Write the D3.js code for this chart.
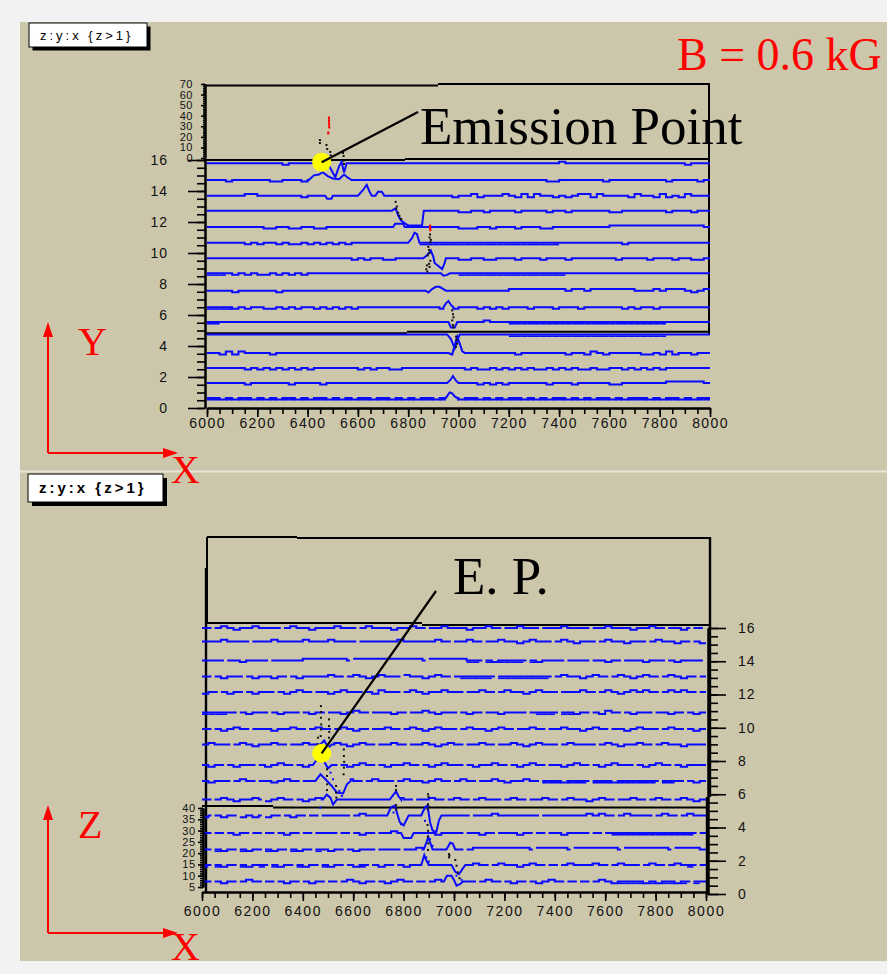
<!DOCTYPE html>
<html>
<head>
<meta charset="utf-8">
<script src="https://cdn.jsdelivr.net/npm/d3@7"></script>
<style>
  html, body { margin: 0; padding: 0; background: #f2f2f2; }
  svg { display: block; }
</style>
</head>
<body>
<svg id="fig" width="887" height="974"></svg>
<script>
// ---------------- data ----------------
const xTickValues = [6000, 6200, 6400, 6600, 6800, 7000, 7200, 7400, 7600, 7800, 8000];
const rowTickValues = [0, 2, 4, 6, 8, 10, 12, 14, 16];
const zTopTickValues = [0, 10, 20, 30, 40, 50, 60, 70];
const zBotTickValues = [5, 10, 15, 20, 25, 30, 35, 40];

// baseline level of each trace (row 0 = lowest)
const topRowY = [0.65, 1.61, 2.58, 3.55, 4.75, 5.55, 6.5, 7.57, 8.69, 9.66, 10.66, 11.68, 12.73, 13.70, 14.71, 15.79];
const botRowY = [0.75, 1.74, 2.68, 3.67, 4.72, 5.68, 6.80, 7.76, 8.99, 9.92, 10.92, 12.15, 13.08, 14.05, 15.19, 16.0];

// per-bin baseline texture, 25 ns bins from 6000 to 8000
// '-' level, '_' low, '^' high, '=' doubled line, '.' short dropout
const topTexture = [
  "==_=_==_=_ =_==_=_==_ =_=_==_==_ =_=_==_=== _==_=_=_== _=_=_==_=_ =_==_=_=== _=_==_=_==",
  "------_--- ---_----_- ---------- ---------- ---_-_-_-- ----_---_- ----__---- ---^^^^^^-",
  "------_-_- _-_-_-_--- ----_-_--_ _--------- -_-__-_-_- _-__-_-_-_ _-__--_-_- _-_-------",
  "--_^_^---- _--------- ---------- ---------- ---------_ -------_-- _^-_-----_ _-_^_--_--",
  "---------- ---------- ---------- ---------- --------== ========== ========== ===-------",
  "==-------- ---------- ---------- ---------- ----^---== ========== ========== ===-------",
  "====_-_--_ _-_-_--_-_ -_-_------ -------_-_ ---_-_-_-- -_---_---_ ------_-_- -_--------",
  "----_----- -_-------- ---------- ---------- --------^^ ^^^^^^^-^^ -^^^^^^^-- -^-^^^-_-^",
  "===-_-_-__ -_-_-_---- ---------- ---------- ========== =======--- ---------- ----------",
  "---------- ---------- ---_-_--__ ---------- __--__---_ ---_---_-- -----_---- _---_--__-",
  "------_-_- -_-__-_-_- _-_------- ---======= ========== ======---- ------_--- ----------",
  "---------_ _--__--__- ---------- ---------- ___--_---_ ---__----- ----^^^^^^ ^^^^^^^^^-",
  "---------- ---------- ---------- ---------- __--_----_ ----_--_-- ----__---- ---_---_--",
  "------^^-- -----_---- ---------- ---------_ --^_---^-_ ^_^--_-_-^ ^_^----_^- -_^_-_^---",
  "---_------ __---_---- ---------- ---------- ---------- ----__---- ---_------ ---_----_-",
  "---------- --_------- ---------- ---------- ---------- ------^--- ---------- ------_---"
];
const botTexture = [
  "-.-_-.-^-. -.-_-.-_-. -.-^-_-.-_ -^-.-.-^-_ -.-.-^-.-_ -.-_-^-.-. -.-^-_==== _=_==_=.=-",
  "=.=_-.=_-= .=_-.=_-.= _-.-_=.-_- .-_-.--_-. -.-^-.-^-- _-^-.-.-^- --^-.-^--. -^-.-^-=.-",
  "-.=_-.=_-. =_-.=_-.=- _-.-_--.-- -.--^-.--- -.-^^^^^^^ ^^.^^^^^.^ ^^^^^^.^^^ ^^^^.^^^^-",
  "-.-.-_-.-. -.-_-.-.-- -.-.-_-.-- ^--.---_-- -.--_-.--- _-.-.--_-- -.-.-===== ========.-",
  "_.-_-._-_. _-.-_-.-.- ---.-^---. ---------- --.---^--- ---.------ -^-^-.-^-- -.-^-.-^--",
  "-.-^-_--^. _-^-.-_-^- --^-.-^--_ -^-.--^-.- ^-.-^--.-^ -.--^-.-^- -_-^-.--^- .-^-.-^-_-",
  "-_--.-^-.- -_-^-.--^- _--^-.-^-- .-^--_-^-. -^-.--^-_- -^-.===_== =.===_==== ==.==-.-_-",
  "-_-.-_--.- _-^-.-_--^ -.-_-^-.-_ --^-.-_-^- -.-_--^-.- _-^-.--_-^ -.-_-^--.- _-^-.-_---",
  "-^--.-^-_- -^-.--^--. -^-_-^-.-- ^-.--^-_-^ -.--^-.--^ -_-^--.-^- --.-^-_--^ -.-^--_---",
  "-.-_-^-.-- -_--^-.-^- .-^-_-.--^ -.-^-_-^-- .-^--_-^-. --^-.--^-- _-^-.--_-^ --.-^-.-_-",
  "====-.-_-- .-_--.-_-. --_-^-.--- _-.--^-_-- .-_-.--_-- -.-===.==_ -.-_^-.-_- -.--_-.-_-",
  "_-.-_-.-_- -.-_-^-.-- _-^--.-_^- -.-^-_--^- -.--^-.-^- -_-^--.--- ^-.-^-_-^- ^-.-^-^-.-",
  "-.-_--.-_- -_-.-_---- ^-.-^-_-^- -.^--_-^-. -=====.=== =====.-^-- _-^-.-^-_- ^-.-^-_-.-",
  "---.--_--- .-----^^^^ ^^^.^^^^^^ ^^^^^.^^^^ ^^==.=_=== =.=_---.-- -.--_-.--- _--.-_---.",
  "---^---.-- -^----^--- ^---.----- -^-----^-. --^-.--^-- _-^--.-^-_ --.-^--_-- .-^--_-.-_",
  "-.-^-_--^- --.-^--_-- -^--.-^--- _--^-.--^- --_--^-.-- ^--.---^-- -.--^---_- -^-.--_.-."
];

// pulse shapes: [row, [[time, offset from baseline], ...]]
const topPulses = [
  [15, [[6430, 0], [6445, 0.15], [6460, 0.5], [6475, 0.2], [6490, -0.3], [6510, -0.9], [6525, -0.2], [6535, 0.1], [6545, -0.6], [6555, 0]]],
  [14, [[6405, 0], [6425, 0.3], [6445, 0.35], [6460, 0.5], [6480, 0.25], [6500, 0.1], [6525, 0.05], [6545, 0.35], [6560, 0.15], [6575, 0]]],
  [13, [[6470, 0], [6478, -0.2], [6495, -0.2], [6500, 0], [6600, 0], [6620, 0.35], [6635, 0.7], [6645, 0.3], [6655, 0], [6670, 0], [6680, 0.25], [6695, 0.25], [6705, 0]]],
  [12, [[6735, 0], [6750, 0.15], [6760, -0.3], [6770, -0.6], [6785, -0.8], [6800, -0.95], [6855, -0.95], [6862, 0]]],
  [11, [[6740, 0], [6748, 0.2], [6780, 0.2], [6786, 0]]],
  [10, [[6800, 0], [6815, 0.3], [6825, 0.65], [6835, 0.55], [6845, 0]]],
  [9, [[6860, 0], [6875, 0.2], [6890, 0.5], [6900, 0.1], [6905, -0.3], [6920, -0.5], [6935, -0.7], [6945, -0.3], [6950, 0]]],
  [8, [[6930, 0], [6940, -0.15], [6955, -0.1], [6965, 0]]],
  [7, [[6870, 0], [6880, -0.12], [6895, 0.1], [6910, 0.25], [6925, 0.25], [6940, 0.1], [6950, 0]]],
  [6, [[6940, 0], [6950, 0.25], [6960, 0.4], [6970, 0.15], [6980, 0]]],
  [5, [[6960, 0], [6970, -0.35], [6985, -0.35], [6995, 0]]],
  [4, [[6955, 0], [6970, -0.3], [6985, -0.9], [6995, -0.4], [7005, 0]]],
  [3, [[6960, 0], [6975, -0.1], [6985, 0.5], [6995, 1.05], [7005, 0.6], [7015, 0.1], [7025, 0]]],
  [1, [[6955, 0], [6968, 0.2], [6978, 0.45], [6990, 0.15], [7000, 0]]],
  [0, [[6950, 0], [6965, 0.35], [6975, 0.3], [6985, 0.1], [6995, 0]]]
];
const botPulses = [
  [8, [[6470, 0], [6485, 0.25], [6500, -0.2], [6515, 0]]],
  [7, [[6440, 0], [6455, 0.3], [6470, 0.5], [6485, 0.2], [6500, -0.2], [6515, 0]]],
  [6, [[6450, 0], [6470, 0.4], [6490, 0.1], [6515, -0.3], [6535, -0.7], [6560, -0.75], [6575, -0.2], [6590, 0]]],
  [5, [[6480, 0], [6495, 0.3], [6510, 0.1], [6520, -0.3], [6535, 0], [6745, 0], [6760, 0.3], [6770, 0.5], [6780, 0.2], [6790, 0]]],
  [4, [[6735, 0], [6750, 0.5], [6765, 0.6], [6775, 0.1], [6785, -0.4], [6800, -0.6], [6810, -0.3], [6820, 0], [6870, 0], [6885, 0.5], [6895, 0.6], [6905, -0.4], [6915, -0.9], [6930, -1.0], [6940, -0.3], [6950, 0]]],
  [3, [[6790, 0], [6800, -0.3], [6830, -0.3], [6840, 0]]],
  [2, [[6880, 0], [6890, 0.4], [6898, 0.75], [6908, 0.3], [6915, 0], [6970, 0], [6985, 0.4], [6995, 0.35], [7005, 0]]],
  [1, [[6870, 0], [6882, 0.6], [6890, 0.3], [6900, 0], [6990, 0], [7005, -0.4], [7020, -0.55], [7035, -0.2], [7045, 0]]],
  [0, [[6960, 0], [6972, 0.35], [6990, 0.35], [7000, 0.1], [7010, -0.25], [7025, -0.15], [7035, 0]]]
];

// high-amplitude samples: [time, row level]; upper ones on the z scale
const topBlackDots = [
  [6543, 15.95], [6545, 15.75],
  [6750, 13.3], [6755, 13.0], [6752, 12.85], [6760, 12.6], [6765, 12.4], [6772, 12.2],
  [6887, 11.2], [6885, 11.0], [6890, 10.85], [6888, 10.7],
  [6880, 10.4], [6883, 10.2], [6885, 10.0], [6878, 9.85], [6888, 9.5], [6883, 9.3], [6885, 9.1],
  [6875, 9.2], [6872, 8.95], [6876, 8.8],
  [6975, 6.3], [6978, 6.05], [6980, 5.85], [6975, 5.65], [6978, 5.35], [6980, 5.2],
  [6990, 4.6], [6992, 4.4], [6995, 4.15], [6990, 3.95]
];
const topRedDots = [[6887, 11.74], [6887, 11.6], [6888, 11.5]];
const topUpperBlackDots = [[6449, 17], [6449, 14.2], [6475, 12.3], [6478, 8.5], [6490, 5.7], [6492, 2.5], [6541, 4.7], [6543, 1.9]];
const topUpperRedDots = [[6485, 37.8], [6485, 35], [6485, 32.2], [6486, 29.3], [6482, 23.7]];

const botBlackDots = [
  [6472, 11.3], [6472, 10.95], [6472, 10.6], [6473, 10.2], [6472, 9.9], [6471, 9.5],
  [6504, 10.5], [6504, 10.1], [6505, 9.75], [6504, 9.4],
  [6563, 8.7], [6563, 8.3], [6564, 7.95], [6563, 7.6], [6562, 7.2],
  [6496, 7.5], [6496, 7.1], [6497, 6.6], [6496, 6.25],
  [6532, 6.5], [6532, 6.1], [6533, 5.8],
  [6460, 9.4], [6460, 9.0], [6461, 8.2],
  [6770, 6.5], [6770, 6.25], [6770, 5.35], [6771, 5.1],
  [6897, 6.0], [6899, 5.85], [6897, 5.4], [6900, 5.25], [6895, 5.1],
  [6895, 4.15], [6897, 3.8], [6896, 3.45], [6898, 3.05], [6897, 2.65],
  [6980, 2.4], [6982, 2.3], [6980, 2.2],
  [7005, 2.05], [7010, 1.7], [7015, 1.3], [7022, 0.95]
];
const botBlueDots = [
  [6455, 9.0], [6490, 8.3], [6510, 7.3], [6520, 6.9], [6545, 6.2], [6555, 5.9], [6470, 5.2],
  [6885, 4.4], [6905, 3.3], [6915, 2.9], [6890, 2.2], [6900, 1.95], [7010, 1.1], [7030, 0.85],
  [6760, 4.9], [6790, 4.2]
];

const topEmission = [6456, 15.85];
const botEmission = [6475, 8.46];

// ---------------- drawing ----------------
const svg = d3.select("#fig");
const SANS = "'Liberation Sans', Arial, sans-serif";
const SERIF = "'Liberation Serif', 'Times New Roman', serif";
const BLUE = "#0a0aff";
const LEVEL = { "-": 0, "=": 0, "_": -0.1, "^": 0.1, ".": 0 };

// panel background and divider
svg.append("rect").attr("x", 20).attr("y", 22).attr("width", 867).attr("height", 939).attr("fill", "#ccc7ab");
svg.append("line").attr("x1", 20).attr("x2", 887).attr("y1", 471.5).attr("y2", 471.5)
  .attr("stroke", "#e8e5d6").attr("stroke-width", 2);

// scales
const xTop = d3.scaleLinear([6000, 8000], [207, 710]);
const yTop = d3.scaleLinear([0, 16], [408, 160]);
const zTop = d3.scaleLinear([0, 70], [158, 84]);
const xBot = d3.scaleLinear([6000, 8000], [202, 706]);
const yBot = d3.scaleLinear([0, 16], [894, 628]);
const zBot = d3.scaleLinear([5, 40], [887, 808]);

function seg(x1, y1, x2, y2, w = 2, color = "#000") {
  svg.append("line").attr("x1", x1).attr("y1", y1).attr("x2", x2).attr("y2", y2)
    .attr("stroke", color).attr("stroke-width", w);
}

function styleAxis(g, size, spacing) {
  g.attr("font-family", null).attr("font-size", null);
  g.select(".domain").attr("stroke", "#000").attr("stroke-width", 2);
  g.selectAll(".tick line").attr("stroke", "#000").attr("stroke-width", 1.6);
  g.selectAll(".tick text").attr("fill", "#111")
    .style("font-family", SANS).style("font-size", size + "px").style("letter-spacing", spacing + "px");
}

function addAxis(axis, tx, ty, size = 14, spacing = 1) {
  const g = svg.append("g").attr("transform", `translate(${tx},${ty})`).call(axis);
  styleAxis(g, size, spacing);
  return g;
}

// trace of one row: textured baseline with the pulse spliced in
function buildTrace(tex, pulse) {
  const s = tex.replace(/\s/g, "");
  const n = s.length, w = 2000 / n;
  const p0 = pulse ? pulse[0][0] : Infinity;
  const p1 = pulse ? pulse[pulse.length - 1][0] : -Infinity;
  const pts = [], thick = [];
  let spliced = false;
  const piece = (a, b, c) => {
    if (b <= a) return;
    const d = LEVEL[c] ?? 0;
    if (c === ".") {
      // sample dropout: the line stops short of the bin end
      const m = a + (b - a) * 0.5;
      pts.push({ x: a, d }, { x: m, d }, { x: m, d: null });
      return;
    }
    pts.push({ x: a, d }, { x: b, d });
    if (c === "=") thick.push([a, b]);
  };
  for (let i = 0; i < n; i++) {
    const a = 6000 + i * w, b = a + w, c = s[i];
    if (b <= p0 || a >= p1) piece(a, b, c);
    else {
      piece(a, p0, c === "." ? "-" : c);
      if (!spliced) { pulse.forEach(([x, d]) => pts.push({ x, d })); spliced = true; }
      piece(p1, b, c === "." ? "-" : c);
    }
  }
  return { pts, thick };
}

function drawTraces(rowY, textures, pulses, xs, ys) {
  const pulseOf = new Map(pulses);
  const g = svg.append("g");
  rowY.forEach((ry, i) => {
    const { pts, thick } = buildTrace(textures[i], pulseOf.get(i));
    const line = d3.line().defined(p => p.d !== null).x(p => xs(p.x)).y(p => ys(ry + p.d));
    g.append("path").attr("d", line(pts)).attr("fill", "none")
      .attr("stroke", BLUE).attr("stroke-width", 2).attr("stroke-linejoin", "miter");
    thick.forEach(([a, b]) => {
      g.append("line").attr("x1", xs(a)).attr("x2", xs(b))
        .attr("y1", ys(ry) + 1.8).attr("y2", ys(ry) + 1.8)
        .attr("stroke", BLUE).attr("stroke-width", 1.6);
    });
  });
}

function drawDots(data, xs, ys, color, w = 2, h = 2) {
  svg.append("g").selectAll("rect").data(data).join("rect")
    .attr("x", d => xs(d[0]) - w / 2).attr("y", d => ys(d[1]) - h / 2)
    .attr("width", w).attr("height", h).attr("fill", color);
}

// ---------- upper panel ----------
seg(204, 85.5, 438, 85.5); seg(438, 84, 710, 84);
seg(709, 84, 709, 334);
seg(204, yTop(16), 405, yTop(16)); seg(405, yTop(16) - 1, 710, yTop(16) - 1);
seg(205, yTop(4.83), 407, yTop(4.83)); seg(407, yTop(4.83) - 1.5, 710, yTop(4.83) - 1.5);

drawTraces(topRowY, topTexture, topPulses, xTop, yTop);
drawDots(topBlackDots, xTop, yTop, "#111");
drawDots(topRedDots, xTop, yTop, "#ff0000", 2, 3);
drawDots(topUpperBlackDots, xTop, zTop, "#111");
drawDots(topUpperRedDots, xTop, zTop, "#ff0000", 2, 3);

addAxis(d3.axisBottom(xTop).tickValues(d3.range(6000, 8001, 50)).tickSize(6).tickSizeOuter(0).tickFormat(""), 0, 408);
addAxis(d3.axisBottom(xTop).tickValues(xTickValues).tickSize(9).tickSizeOuter(0).tickPadding(1).tickFormat(d3.format("d")), 0, 408, 14, 1.4);
addAxis(d3.axisLeft(yTop).tickValues(d3.range(0, 16.01, 0.5)).tickSize(8).tickSizeOuter(0).tickFormat(""), 205, 0);
addAxis(d3.axisLeft(yTop).tickValues(rowTickValues).tickSize(17).tickSizeOuter(0).tickPadding(20), 205, 0, 14, 1);
addAxis(d3.axisLeft(zTop).tickValues(d3.range(0, 70.1, 2)).tickSize(2).tickSizeOuter(0).tickFormat(""), 205, 0);
addAxis(d3.axisLeft(zTop).tickValues(zTopTickValues).tickSize(4).tickSizeOuter(0).tickPadding(8), 205, 0, 11, 0.5);

const te = [xTop(topEmission[0]), yTop(topEmission[1])];
svg.append("circle").attr("cx", te[0]).attr("cy", te[1]).attr("r", 9.5).attr("fill", "#ffff00");
seg(te[0], te[1], 418, 112, 2.2);
svg.append("text").attr("x", 420).attr("y", 144).text("Emission Point")
  .style("font-family", SERIF).style("font-size", "53px").attr("fill", "#000");

// ---------- lower panel ----------
seg(207, 537, 297, 537); seg(297, 538, 710, 538);
seg(207, 537, 207, 623);
seg(206, 568, 206, 892, 2.4);
seg(207, 623, 422, 623); seg(422, 625, 710, 625);
seg(710, 537, 710, 797, 2.4); seg(707, 797, 707, 893, 2.4);
seg(202, 806, 273, 806); seg(273, 807.5, 706, 807.5);

drawTraces(botRowY, botTexture, botPulses, xBot, yBot);
drawDots(botBlueDots, xBot, yBot, BLUE);
drawDots(botBlackDots, xBot, yBot, "#111");

addAxis(d3.axisBottom(xBot).tickValues(d3.range(6000, 8001, 50)).tickSize(6).tickSizeOuter(0).tickFormat(""), 0, 892);
addAxis(d3.axisBottom(xBot).tickValues(xTickValues).tickSize(9).tickSizeOuter(0).tickPadding(5).tickFormat(d3.format("d")), 0, 892, 14, 1.6);
addAxis(d3.axisRight(yBot).tickValues(d3.range(0, 16.01, 0.5)).tickSize(10).tickSizeOuter(0).tickFormat(""), 708, 0);
addAxis(d3.axisRight(yBot).tickValues(rowTickValues).tickSize(18).tickSizeOuter(0).tickPadding(12), 708, 0, 14, 1);
addAxis(d3.axisLeft(zBot).tickValues(d3.range(5, 40.1, 1)).tickSize(3).tickSizeOuter(0).tickFormat(""), 203, 0);
addAxis(d3.axisLeft(zBot).tickValues(zBotTickValues).tickSize(5).tickSizeOuter(0).tickPadding(2), 203, 0, 11, 0.8);

const be = [xBot(botEmission[0]), yBot(botEmission[1])];
svg.append("circle").attr("cx", be[0]).attr("cy", be[1]).attr("r", 9.5).attr("fill", "#ffff00");
seg(be[0], be[1], 436, 591, 2.2);
svg.append("text").attr("x", 453).attr("y", 594).text("E. P.")
  .style("font-family", SERIF).style("font-size", "53px").attr("fill", "#000");

// ---------- selection boxes ----------
function selBox(x, y, w, h, off, label, size, weight) {
  svg.append("rect").attr("x", x + off).attr("y", y + off).attr("width", w).attr("height", h).attr("fill", "#000");
  svg.append("rect").attr("x", x).attr("y", y).attr("width", w).attr("height", h)
    .attr("fill", "#fff").attr("stroke", "#000").attr("stroke-width", 1);
  svg.append("text").attr("x", x + 11).attr("y", y + h / 2).attr("dy", "0.36em").text(label)
    .style("font-family", SANS).style("font-size", size + "px").style("font-weight", weight)
    .style("letter-spacing", "3px").attr("fill", "#000");
}
selBox(29, 23, 118, 24, 3.5, "z:y:x {z>1}", 13, "normal");
selBox(28, 474, 135, 28, 4, "z:y:x {z>1}", 15, "bold");

// ---------- field label and coordinate arrows ----------
svg.append("text").attr("x", 677).attr("y", 70).text("B = 0.6 kG")
  .style("font-family", SERIF).style("font-size", "46px").attr("fill", "#ff0000");

function frameArrows(ox, oy, topY, rightX, vLabel, hLabelY) {
  const red = "#ff0000";
  seg(ox, oy, ox, topY + 12, 2, red);
  seg(ox, oy, rightX - 12, oy, 2, red);
  svg.append("path").attr("d", `M${ox},${topY} L${ox - 5},${topY + 15} L${ox + 5},${topY + 15} Z`).attr("fill", red);
  svg.append("path").attr("d", `M${rightX},${oy} L${rightX - 15},${oy - 5} L${rightX - 15},${oy + 5} Z`).attr("fill", red);
  svg.append("text").attr("x", 78).attr("y", topY + 33).text(vLabel)
    .style("font-family", SERIF).style("font-size", "40px").attr("fill", red);
  svg.append("text").attr("x", 171).attr("y", hLabelY).text("X")
    .style("font-family", SERIF).style("font-size", "40px").attr("fill", red);
}
frameArrows(48, 453, 322, 178, "Y", 483);
frameArrows(48, 933, 805, 178, "Z", 960);

svg.append("rect").attr("x", 0).attr("y", 962).attr("width", 887).attr("height", 12).attr("fill", "#f2f2f2").lower();
</script>
</body>
</html>
